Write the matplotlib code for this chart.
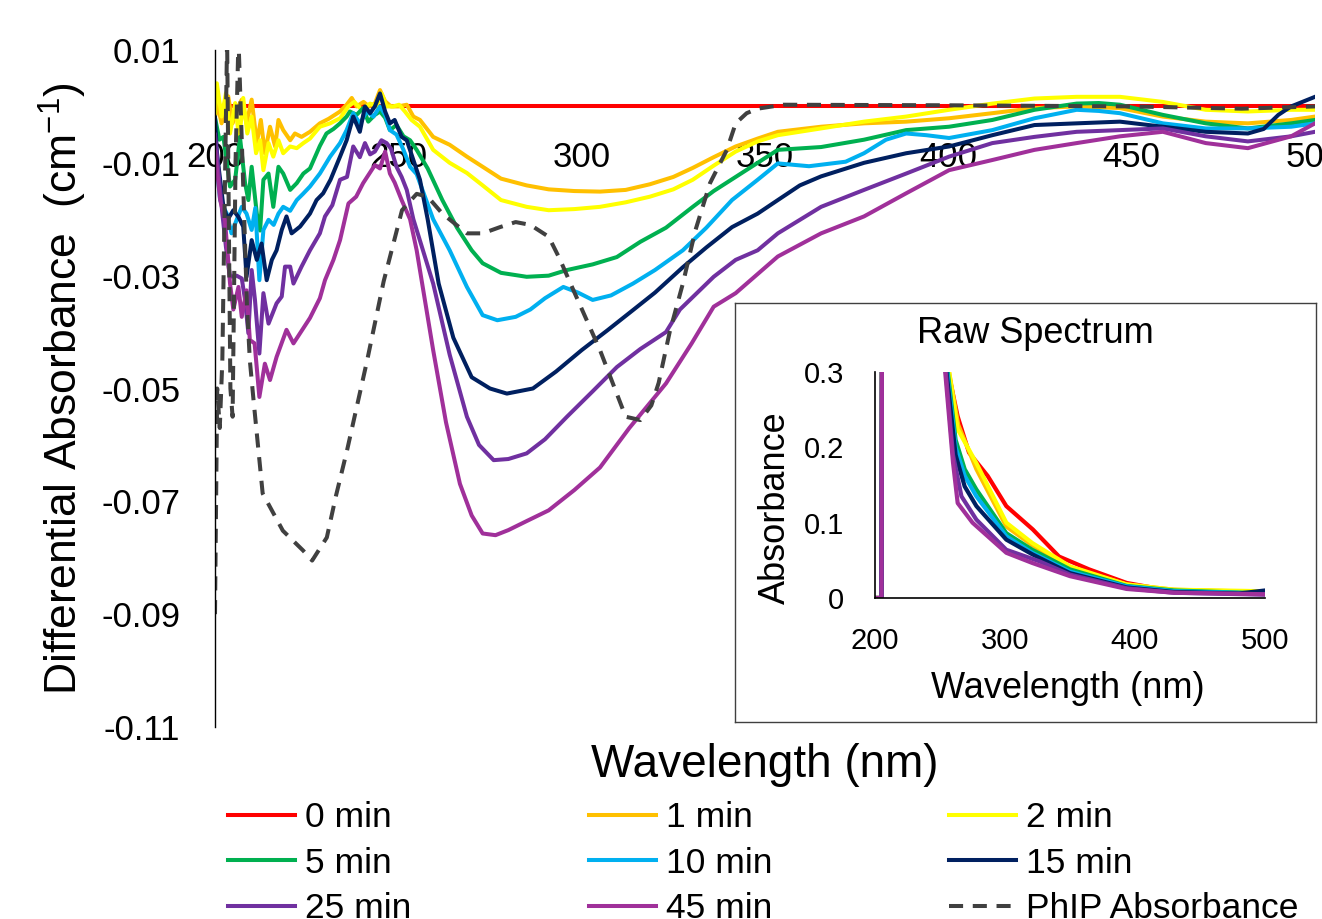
import matplotlib
matplotlib.use("Agg")
import matplotlib.pyplot as plt

plt.rcParams['font.family'] = ['Liberation Sans', 'DejaVu Sans']
plt.rcParams['mathtext.default'] = 'regular'

# ---- differential spectra (main plot) ----
wl_0 = [200, 300, 400, 500]
dA_0 = [0.0, 0.0, 0.0, 0.0]

wl_1 = [200, 200.6, 201.8, 203.6, 204.8, 205.9, 207.3, 208.6, 210.0, 211.4, 212.5, 213.6, 215.0, 216.4,
        217.3, 218.6, 220.5, 221.8, 223.6, 225.9, 228.6, 231, 234.1, 235.9, 237.3, 238.6, 240.5, 242,
        243.6, 245, 246.4, 248, 250, 252.3, 254.1, 255.9, 259.5, 264, 268.7, 273, 278, 285, 291, 298,
        305, 312, 318.6, 325, 330.3, 336, 342, 348, 353.5, 365.3, 377, 388.5, 400.2, 412, 423.5, 435,
        446.8, 458.5, 470.2, 481.7, 493.5, 500]
dA_1 = [-0.002, 0.0006, -0.003, 0.0018, -0.003, -0.0006, 0.0012, -0.003, 0.0012, -0.0065, -0.0024,
        -0.0083, -0.0036, -0.0071, -0.0024, -0.0042, -0.006, -0.0048, -0.0054, -0.0045, -0.003, -0.0022,
        -0.0009, 0.0003, 0.0015, 0.0, 0.0008, 0.0, 0.0005, 0.0029, 0.0009, 0.0, 0.0, 0.0003, -0.0018,
        -0.0024, -0.0054, -0.0068, -0.0089, -0.0107, -0.0128, -0.014, -0.0147, -0.015, -0.0151, -0.0148,
        -0.0138, -0.0125, -0.0109, -0.009, -0.0071, -0.0057, -0.0045, -0.0036, -0.003, -0.0027, -0.0021,
        -0.0012, -0.0003, 0.0, -0.0003, -0.0018, -0.0027, -0.003, -0.0024, -0.0018]

wl_2 = [200, 200.5, 201.8, 203.0, 204.1, 205.5, 206.6, 207.7, 208.8, 210.0, 211.2, 212.3, 213.2, 214.6,
        215.9, 217.3, 218.6, 220.5, 222.3, 224.1, 225.9, 228.6, 231.4, 234.1, 236.4, 238, 240, 242.3,
        244, 245.4, 246.8, 248.6, 250.2, 251.8, 253.6, 255.9, 259.5, 264, 268.7, 273, 278, 285, 291, 298,
        305, 312, 318.6, 325, 330.3, 336, 342, 348, 353.5, 365.3, 377, 388.5, 400.2, 412, 423.5, 435,
        446.8, 458.5, 470.2, 481.7, 493.5, 500]
dA_2 = [-0.001, 0.0041, -0.0018, 0.0024, -0.0048, 0.0006, -0.006, 0.0015, -0.0048, -0.0018, -0.0083,
        -0.006, -0.0113, -0.0065, -0.0089, -0.006, -0.0083, -0.0071, -0.0074, -0.0065, -0.0057, -0.0036,
        -0.003, -0.0021, 0.0, 0.0008, -0.0006, 0.0005, 0.0, 0.0023, 0.0, 0.0, 0.0003, -0.0009, -0.0024,
        -0.0036, -0.0077, -0.01, -0.0118, -0.014, -0.0166, -0.0178, -0.0184, -0.0182, -0.0178, -0.017,
        -0.016, -0.0147, -0.013, -0.0105, -0.008, -0.0062, -0.0051, -0.0039, -0.0027, -0.0018, -0.0006,
        0.0005, 0.0014, 0.0017, 0.0017, 0.0008, -0.0006, -0.0009, -0.0006, -0.0006]

wl_5 = [200, 201.2, 202.3, 204.1, 205.5, 206.8, 208.2, 209.1, 210.0, 211.4, 212.3, 213.2, 214.6, 215.9,
        217.3, 218.6, 220.5, 222.3, 224.1, 225.9, 228.6, 230.4, 232.3, 234.1, 235.9, 236.8, 238.6, 240.4,
        241.8, 243.6, 245, 246.4, 247.7, 249.5, 251.4, 253.2, 255, 258, 262, 266, 270, 273, 278, 285,
        291, 296, 303, 309.6, 316, 323, 330.3, 336, 342, 353.5, 365.3, 377, 388.5, 400.2, 412, 423.5,
        435, 441, 446.8, 458.5, 470.2, 481.7, 493.5, 500]
dA_5 = [-0.002, -0.0059, -0.0054, -0.0142, -0.013, -0.0054, -0.0136, -0.0166, -0.0107, -0.019, -0.022,
        -0.013, -0.0119, -0.0178, -0.0107, -0.0119, -0.0148, -0.0136, -0.0119, -0.011, -0.007, -0.0048,
        -0.004, -0.003, -0.0018, -0.0009, -0.0015, -0.0003, -0.0027, -0.0015, -0.0009, -0.002, -0.0042,
        -0.0033, -0.0053, -0.006, -0.0077, -0.011, -0.0166, -0.0215, -0.0255, -0.0278, -0.0295, -0.0302,
        -0.03, -0.029, -0.028, -0.0267, -0.024, -0.0215, -0.0178, -0.015, -0.0125, -0.0077, -0.0072,
        -0.0059, -0.0042, -0.0036, -0.0024, -0.0006, 0.0005, 0.0006, 0.0003, -0.0015, -0.003, -0.0039,
        -0.003, -0.0024]

wl_10 = [200, 200.5, 201.4, 202.3, 203.2, 204.5, 205.9, 207.3, 208.6, 210.0, 211.0, 212.1, 213.2, 214.6,
         216, 217.3, 218.6, 220.5, 222.3, 224, 225.9, 228.6, 231.4, 234.1, 235.9, 237.7, 239.5, 241.4,
         243.2, 245, 246.4, 247.7, 249.5, 251.4, 253.2, 255, 259.5, 264, 268.7, 273, 277, 282, 286, 290,
         295, 299, 303, 308, 314, 320, 327.6, 334, 341, 348, 353.5, 362, 372, 377, 383, 388.5, 394,
         400.2, 412, 423.5, 435, 441, 446.8, 458.5, 470.2, 481.7, 493.5, 500]
dA_10 = [-0.004, -0.0107, -0.0166, -0.0178, -0.019, -0.0225, -0.0201, -0.0178, -0.019, -0.0219, -0.018,
         -0.0308, -0.0219, -0.0201, -0.021, -0.019, -0.0178, -0.0185, -0.0166, -0.0155, -0.0142, -0.0119,
         -0.0089, -0.0065, -0.0042, -0.0012, -0.003, -0.0009, -0.0018, 0.0, -0.0015, -0.0042, -0.005,
         -0.0077, -0.0107, -0.012, -0.02, -0.0255, -0.032, -0.037, -0.0379, -0.0373, -0.036, -0.034,
         -0.032, -0.033, -0.0343, -0.0335, -0.0314, -0.029, -0.0255, -0.0215, -0.0166, -0.013, -0.0101,
         -0.0106, -0.0098, -0.0083, -0.0059, -0.0048, -0.0051, -0.0056, -0.0042, -0.0021, -0.0006,
         -0.0008, -0.0012, -0.003, -0.0039, -0.0039, -0.0036, -0.003]

wl_15 = [200, 200.5, 201.2, 202.3, 203.5, 205, 206.4, 207.7, 208.6, 210, 211.4, 212.7, 214.1, 215.5,
         216.8, 218.2, 219.5, 220.9, 223.2, 225.9, 227.7, 229.5, 231.5, 234.1, 235.9, 237.7, 239.5,
         240.9, 242.3, 243.6, 245, 246.4, 247.7, 249, 250.9, 252.3, 254.1, 255.9, 258, 261, 265, 270,
         275, 279.6, 286.7, 293, 300, 307, 314, 320, 327.6, 334, 341, 348, 353.5, 359.5, 365.3, 377,
         388.5, 400.2, 412, 423.5, 435, 446.8, 458.5, 470.2, 481.7, 486, 490, 493.5, 500]
dA_15 = [-0.002, -0.008, -0.0119, -0.0178, -0.02, -0.0184, -0.0196, -0.0213, -0.0302, -0.0237, -0.0272,
         -0.0243, -0.0308, -0.0272, -0.0255, -0.0219, -0.0195, -0.0225, -0.0213, -0.019, -0.0166, -0.0154,
         -0.013, -0.0089, -0.006, -0.0018, -0.0045, 0.0, -0.0012, 0.0, 0.0023, -0.0009, -0.003, -0.0024,
         -0.0054, -0.006, -0.0095, -0.013, -0.02, -0.0314, -0.041, -0.048, -0.05, -0.0509, -0.05, -0.047,
         -0.0432, -0.0397, -0.0361, -0.033, -0.0285, -0.025, -0.0214, -0.019, -0.0166, -0.014, -0.0124,
         -0.01, -0.0083, -0.0071, -0.0051, -0.0033, -0.003, -0.0027, -0.0036, -0.0045, -0.0048, -0.004,
         -0.0015, 0.0, 0.0017]

wl_25 = [200, 201, 202, 203, 204.1, 205.9, 207.3, 208.2, 209.1, 210, 210.9, 212.1, 213.2, 214.6, 216.8,
         218.2, 219.1, 220.5, 221.4, 223.6, 225.9, 228.6, 230, 232, 234.1, 236, 237.7, 239.5, 240.9,
         242.3, 243.6, 245.4, 246.8, 248, 249.5, 250.9, 252.3, 254.1, 256, 259.5, 264, 268.7, 272, 276,
         280, 285, 290, 296, 303, 309.6, 316, 323, 326.8, 336, 342, 348, 353.5, 365.3, 377, 388.5, 400.2,
         412, 423.5, 435, 446.8, 458.5, 470.2, 481.7, 493.5, 500]
dA_25 = [-0.005, -0.012, -0.019, -0.025, -0.0302, -0.03, -0.0305, -0.0343, -0.0402, -0.029, -0.0343,
         -0.0438, -0.0331, -0.0385, -0.0349, -0.0337, -0.0284, -0.0284, -0.0314, -0.0284, -0.0255, -0.0225,
         -0.0195, -0.0175, -0.013, -0.0125, -0.0071, -0.009, -0.0065, -0.0085, -0.008, -0.006, -0.0065,
         -0.0075, -0.0107, -0.0125, -0.0148, -0.02, -0.024, -0.0314, -0.044, -0.055, -0.06, -0.0627,
         -0.0625, -0.0615, -0.059, -0.055, -0.0505, -0.0462, -0.043, -0.04, -0.036, -0.0302, -0.0272,
         -0.0255, -0.0225, -0.0178, -0.0148, -0.0119, -0.0089, -0.0065, -0.0054, -0.0045, -0.0042,
         -0.0039, -0.0053, -0.0062, -0.0053, -0.0045]

wl_45 = [200, 201, 201.4, 202.7, 204.1, 205, 206.4, 207.3, 208.6, 209.5, 210.8, 212.1, 213.6, 215, 216.8,
         219.5, 221.4, 223.2, 225.9, 228.6, 230, 232.3, 234.1, 236.4, 238.5, 240.4, 242, 243.6, 245,
         246.4, 247.7, 249, 250.9, 253.2, 255, 259.5, 263, 266.8, 270, 273, 276.5, 280, 285, 291, 298,
         305, 313, 323, 330, 336, 342, 353.5, 365.3, 377, 388.5, 400.2, 412, 423.5, 435, 446.8, 458.5,
         470.2, 481.7, 493.5, 500]
dA_45 = [-0.008, -0.014, -0.0166, -0.02, -0.0314, -0.036, -0.032, -0.0373, -0.0326, -0.0414, -0.042,
         -0.0515, -0.0456, -0.0485, -0.0444, -0.0396, -0.042, -0.0402, -0.0375, -0.034, -0.0308, -0.0272,
         -0.0237, -0.0172, -0.016, -0.0136, -0.012, -0.0104, -0.011, -0.008, -0.0119, -0.0135, -0.0166,
         -0.02, -0.0255, -0.0432, -0.056, -0.0669, -0.0725, -0.0757, -0.076, -0.0751, -0.0735, -0.0716,
         -0.068, -0.064, -0.057, -0.0491, -0.042, -0.0355, -0.0331, -0.0266, -0.0225, -0.0195, -0.0154,
         -0.0113, -0.0095, -0.0077, -0.0065, -0.0053, -0.0045, -0.0065, -0.0074, -0.0053, -0.003]

wl_phip = [200, 200.6, 201.3, 202, 203.3, 204.2, 204.8, 205.6, 206.4, 207.5, 208.7, 209.5, 210.5, 213,
           218.5, 224, 226.5, 230.5, 233, 236, 241.5, 246, 251, 255, 258, 262, 268.7, 273, 277.7, 282,
           286, 291, 294, 297.7, 305, 312, 316, 319, 321, 324, 327.6, 331, 335, 339.6, 342, 345, 348,
           355, 400, 450, 480, 500]
dA_phip = [-0.09, -0.05, -0.057, -0.045, 0.012, -0.05, -0.055, -0.01, 0.012, -0.01, -0.035, -0.045,
           -0.052, -0.0686, -0.0752, -0.0787, -0.0805, -0.0764, -0.069, -0.061, -0.045, -0.031, -0.0184,
           -0.0155, -0.016, -0.019, -0.0225, -0.0225, -0.0214, -0.0205, -0.021, -0.0231, -0.027, -0.0325,
           -0.0432, -0.055, -0.0556, -0.053, -0.049, -0.04, -0.0314, -0.022, -0.0136, -0.0077, -0.003,
           -0.0012, -0.0004, 0.0003, 0.0002, 0.0, -0.0004, 0.0]

# ---- raw spectra (inset) ----
raw_wl_0 = [200, 205, 205.5, 250, 256.4, 263.6, 272.3, 286.7, 301, 321.4, 341.6, 364.7, 393.6, 422.5, 465.9, 500]
raw_A_0 = [0.0, 0.0, 0.5, 0.4, 0.3, 0.241, 0.193, 0.162, 0.122, 0.091, 0.055, 0.038, 0.02, 0.011, 0.009, 0.007]
raw_wl_1 = [200, 205, 205.5, 250, 257, 264, 278, 301, 321, 350, 393.6, 430, 500]
raw_A_1 = [0.0, 0.0, 0.5, 0.4, 0.3, 0.23, 0.171, 0.095, 0.07, 0.04, 0.018, 0.011, 0.008]
raw_wl_2 = [200, 205, 205.5, 250, 257, 263.6, 278, 301, 321, 350, 393.6, 430, 500]
raw_A_2 = [0.0, 0.0, 0.5, 0.4, 0.3, 0.224, 0.179, 0.1, 0.073, 0.042, 0.018, 0.011, 0.009]
raw_wl_5 = [200, 205, 205.5, 250, 256, 262, 269, 278, 301, 321, 350, 393.6, 430, 500]
raw_A_5 = [0.0, 0.0, 0.5, 0.4, 0.3, 0.21, 0.171, 0.144, 0.086, 0.064, 0.038, 0.016, 0.01, 0.006]
raw_wl_10 = [200, 205, 205.5, 250, 255.5, 262, 269, 278, 301, 321, 350, 393.6, 430, 500]
raw_A_10 = [0.0, 0.0, 0.5, 0.4, 0.3, 0.2, 0.162, 0.135, 0.082, 0.06, 0.035, 0.0155, 0.009, 0.006]
raw_wl_15 = [200, 205, 205.5, 250, 255, 262, 269, 278, 301, 321, 350, 393.6, 430, 480, 500]
raw_A_15 = [0.0, 0.0, 0.5, 0.4, 0.3, 0.19, 0.148, 0.122, 0.0775, 0.058, 0.033, 0.014, 0.008, 0.006, 0.01]
raw_wl_25 = [200, 205, 205.5, 250, 254.5, 260, 266.5, 278, 301, 326, 350, 393.6, 430, 500]
raw_A_25 = [0.0, 0.0, 0.5, 0.4, 0.3, 0.19, 0.135, 0.104, 0.064, 0.049, 0.031, 0.013, 0.007, 0.0044]
raw_wl_45 = [200, 205, 205.5, 250, 254, 260, 263.6, 275, 301, 321, 350, 393.6, 430, 500]
raw_A_45 = [0.0, 0.0, 0.5, 0.4, 0.3, 0.18, 0.126, 0.1, 0.06, 0.0465, 0.029, 0.012, 0.007, 0.005]

labels = ['0 min', '1 min', '2 min', '5 min', '10 min', '15 min', '25 min', '45 min']
colors = ['#FF0000', '#FFC000', '#FFFF00', '#00B050', '#00B0F0', '#002060', '#7030A0', '#A0309A']
main_wl = [wl_0, wl_1, wl_2, wl_5, wl_10, wl_15, wl_25, wl_45]
main_dA = [dA_0, dA_1, dA_2, dA_5, dA_10, dA_15, dA_25, dA_45]
raw_wl = [raw_wl_0, raw_wl_1, raw_wl_2, raw_wl_5, raw_wl_10, raw_wl_15, raw_wl_25, raw_wl_45]
raw_A = [raw_A_0, raw_A_1, raw_A_2, raw_A_5, raw_A_10, raw_A_15, raw_A_25, raw_A_45]

W, H = 1322, 919
fig = plt.figure(figsize=(W / 100, H / 100), dpi=100)
ax = fig.add_axes([215 / W, 1 - 727 / H, 1100 / W, 677 / H])

handles = []
for x, y, c, lab in zip(main_wl, main_dA, colors, labels):
    h, = ax.plot(x, y, color=c, lw=2.9, label=lab, solid_joinstyle='round')
    handles.append(h)
h, = ax.plot(wl_phip, dA_phip, color='#404040', lw=2.9, linestyle=(0, (3.5, 2.4)), label='PhIP Absorbance')
handles.append(h)

ax.set_xlim(200, 500)
ax.set_ylim(-0.11, 0.01)
ax.set_xticks([200, 250, 300, 350, 400, 450, 500])
ax.set_yticks([0.01, -0.01, -0.03, -0.05, -0.07, -0.09, -0.11])
ax.set_yticklabels(['0.01', '-0.01', '-0.03', '-0.05', '-0.07', '-0.09', '-0.11'])
for s in ['top', 'right']:
    ax.spines[s].set_visible(False)
ax.spines['bottom'].set_position(('data', 0))
ax.spines['bottom'].set_color('none')
ax.spines['left'].set_linewidth(1.0)
ax.spines['left'].set_color('black')
ax.tick_params(axis='both', length=0, labelsize=25)
ax.tick_params(axis='x', pad=25)
ax.tick_params(axis='y', pad=25)
ax.set_axisbelow(True)
ax.set_ylabel('Differential Absorbance  (cm$^{-1}$)', fontsize=32, labelpad=9)
fig.text(765 / W, 1 - 765 / H, 'Wavelength (nm)', ha='center', va='center', fontsize=33)

order = [0, 3, 6, 1, 4, 7, 2, 5, 8]
fig.legend([handles[i] for i in order], [handles[i].get_label() for i in order],
           ncol=3, loc='upper left', bbox_to_anchor=(228 / W, 1 - 801 / H), frameon=False,
           fontsize=25.5, handlelength=1.9, handletextpad=0.28, columnspacing=5.0,
           labelspacing=0.36, borderpad=0, borderaxespad=0)

# inset box
box = fig.add_axes([735 / W, 1 - 722 / H, 581 / W, 419 / H])
box.set_xticks([])
box.set_yticks([])
for s in box.spines.values():
    s.set_color('#404040')
    s.set_linewidth(1.0)

inset = fig.add_axes([875 / W, 1 - 598 / H, 390 / W, 226 / H])
inset.patch.set_alpha(0)
for x, y, c in zip(raw_wl, raw_A, colors):
    inset.plot(x, y, color=c, lw=3)
inset.set_xlim(200, 500)
inset.set_ylim(0, 0.3)
inset.set_xticks([200, 300, 400, 500])
inset.set_yticks([0, 0.1, 0.2, 0.3])
inset.set_yticklabels(['0', '0.1', '0.2', '0.3'])
for s in ['top', 'right']:
    inset.spines[s].set_visible(False)
for s in ['left', 'bottom']:
    inset.spines[s].set_color('black')
    inset.spines[s].set_linewidth(1.2)
inset.tick_params(length=0, labelsize=21)
inset.tick_params(axis='x', pad=21)
inset.tick_params(axis='y', pad=22)
fig.text(1035 / W, 1 - 333 / H, 'Raw Spectrum', ha='center', va='center', fontsize=26)
fig.text(775 / W, 1 - 508 / H, 'Absorbance', ha='center', va='center', rotation=90, fontsize=26)
fig.text(1068 / W, 1 - 688 / H, 'Wavelength (nm)', ha='center', va='center', fontsize=26)

fig.savefig('out.png', dpi=100)
